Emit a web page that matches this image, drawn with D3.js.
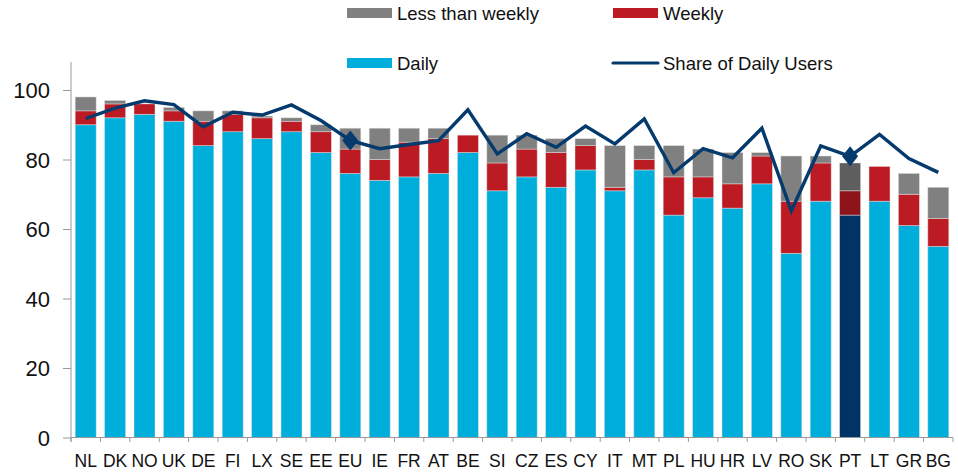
<!DOCTYPE html>
<html>
<head>
<meta charset="utf-8">
<script src="https://cdn.jsdelivr.net/npm/d3@7"></script>
<style>
body { margin: 0; background: #fff; }
svg text { font-family: "Liberation Sans", Arial, sans-serif; fill: #111; }
</style>
</head>
<body>
<div id="chart"></div>
<script>
// data
var countries = ["NL","DK","NO","UK","DE","FI","LX","SE","EE","EU","IE","FR","AT","BE","SI",
                 "CZ","ES","CY","IT","MT","PL","HU","HR","LV","RO","SK","PT","LT","GR","BG"];
var daily      = [90, 92, 93, 91, 84, 88, 86, 88, 82, 76, 74, 75, 76, 82, 71,
                  75, 72, 77, 71, 77, 64, 69, 66, 73, 53, 68, 64, 68, 61, 55];
var weekly     = [ 4,  4,  3,  3,  7,  5,  6,  3,  6,  7,  6, 10, 10,  5,  8,
                   8, 10,  7,  1,  3, 11,  6,  7,  8, 15, 11,  7, 10,  9,  8];
var lessWeekly = [ 4,  1,  0,  1,  3,  1,  0.5, 1,  2,  6,  9,  4,  3,  0,  8,
                   4,  4,  2, 12,  4,  9,  8,  9,  1, 13,  2,  8,  0,  6,  9];
var shareDaily = [91.8, 94.8, 96.9, 95.8, 89.4, 93.6, 92.8, 95.7, 91.2, 85.5, 83.1, 84.3, 85.4, 94.3, 81.6,
                  87.4, 83.5, 89.6, 84.5, 91.7, 76.2, 83.1, 80.5, 89.0, 65.2, 83.9, 80.9, 87.2, 80.3, 76.3];
var markers = ["EU", "PT"];
var highlight = "PT";
var yTicks = [0, 20, 40, 60, 80, 100];

var width = 958, height = 472;
var svg = d3.select("#chart").append("svg")
    .attr("width", width)
    .attr("height", height);

var x = d3.scaleBand()
    .domain(countries)
    .range([71, 953])
    .paddingInner(0.286)
    .paddingOuter(0.143);

var y = d3.scaleLinear()
    .domain([0, 100])
    .range([437.5, 90]);

var colors = { daily: "#00AEDB", weekly: "#BD1B24", less: "#808080", line: "#053A6D" };
var hiColors = { daily: "#003366", weekly: "#8D141B", less: "#5E5E5E" };

// stacked rows
var rows = countries.map(function(c, i) {
    return { c: c, daily: daily[i], weekly: weekly[i], less: lessWeekly[i], share: shareDaily[i] };
});
var stack = d3.stack().keys(["daily", "weekly", "less"]);
var layers = stack(rows);

var g = svg.append("g");
layers.forEach(function(layer) {
    var key = layer.key;
    g.selectAll("rect." + key)
        .data(layer)
      .enter().append("rect")
        .attr("class", key)
        .attr("x", function(d) { return x(d.data.c); })
        .attr("width", x.bandwidth())
        .attr("y", function(d) { return y(d[1]); })
        .attr("height", function(d) { return Math.max(0, y(d[0]) - y(d[1])); })
        .attr("fill", function(d) { return d.data.c === highlight ? hiColors[key] : colors[key]; })
        .attr("stroke", "#e6e6e6")
        .attr("stroke-opacity", 0.55)
        .attr("stroke-width", 0.8);
});

// y axis
var yAxis = svg.append("g")
    .attr("transform", "translate(71,0)")
    .call(d3.axisLeft(y).tickValues(yTicks).tickSize(8).tickPadding(13));
yAxis.select(".domain").remove();
yAxis.append("line").attr("x1", 0).attr("x2", 0).attr("y1", 62).attr("y2", 441.5);
yAxis.selectAll("line").attr("stroke", "#999");
yAxis.selectAll("text").style("font-size", "22px").attr("dy", "0.36em").attr("fill", "#111");

// x axis: ticks sit between categories
var step = x.step();
var xg = svg.append("g");
xg.append("line")
    .attr("x1", 71).attr("x2", 953)
    .attr("y1", y(0)).attr("y2", y(0))
    .attr("stroke", "#999");
xg.selectAll("line.tick")
    .data(d3.range(countries.length + 1))
  .enter().append("line")
    .attr("class", "tick")
    .attr("x1", function(i) { return 71 + i * step; })
    .attr("x2", function(i) { return 71 + i * step; })
    .attr("y1", y(0)).attr("y2", y(0) + 4.5)
    .attr("stroke", "#999");
xg.selectAll("text")
    .data(countries)
  .enter().append("text")
    .attr("x", function(d) { return x(d) + x.bandwidth() / 2; })
    .attr("y", 467)
    .attr("text-anchor", "middle")
    .style("font-size", "17.5px")
    .text(function(d) { return d; });

// share of daily users line
var line = d3.line()
    .x(function(d) { return x(d.c) + x.bandwidth() / 2; })
    .y(function(d) { return y(d.share); });
svg.append("path")
    .datum(rows)
    .attr("d", line)
    .attr("fill", "none")
    .attr("stroke", colors.line)
    .attr("stroke-width", 3.4)
    .attr("stroke-linejoin", "miter");

// diamond a little taller than wide, as in the original
var diamond = {
    draw: function(ctx, size) {
        var w = 8, h = 10;
        ctx.moveTo(0, -h);
        ctx.lineTo(w, 0);
        ctx.lineTo(0, h);
        ctx.lineTo(-w, 0);
        ctx.closePath();
    }
};
svg.selectAll("path.marker")
    .data(rows.filter(function(d) { return markers.indexOf(d.c) >= 0; }))
  .enter().append("path")
    .attr("class", "marker")
    .attr("d", d3.symbol().type(diamond))
    .attr("transform", function(d) {
        return "translate(" + (x(d.c) + x.bandwidth() / 2) + "," + y(d.share) + ")";
    })
    .attr("fill", colors.line);

// legend
var legend = [
    { name: "Less than weekly", color: colors.less, type: "rect", x: 347, y: 13 },
    { name: "Weekly", color: colors.weekly, type: "rect", x: 613, y: 13 },
    { name: "Daily", color: colors.daily, type: "rect", x: 347, y: 63 },
    { name: "Share of Daily Users", color: colors.line, type: "line", x: 613, y: 63 }
];
var lg = svg.append("g").selectAll("g")
    .data(legend)
  .enter().append("g")
    .attr("transform", function(d) { return "translate(" + d.x + "," + d.y + ")"; });
lg.filter(function(d) { return d.type === "rect"; })
  .append("rect")
    .attr("x", 0).attr("y", -5).attr("width", 45).attr("height", 10)
    .attr("fill", function(d) { return d.color; });
lg.filter(function(d) { return d.type === "line"; })
  .append("line")
    .attr("x1", 0).attr("x2", 45).attr("y1", 0).attr("y2", 0)
    .attr("stroke", function(d) { return d.color; })
    .attr("stroke-width", 3.2)
    .attr("stroke-linecap", "round");
lg.append("text")
    .attr("x", 50)
    .attr("y", 7)
    .style("font-size", "18.5px")
    .text(function(d) { return d.name; });
</script>
</body>
</html>
